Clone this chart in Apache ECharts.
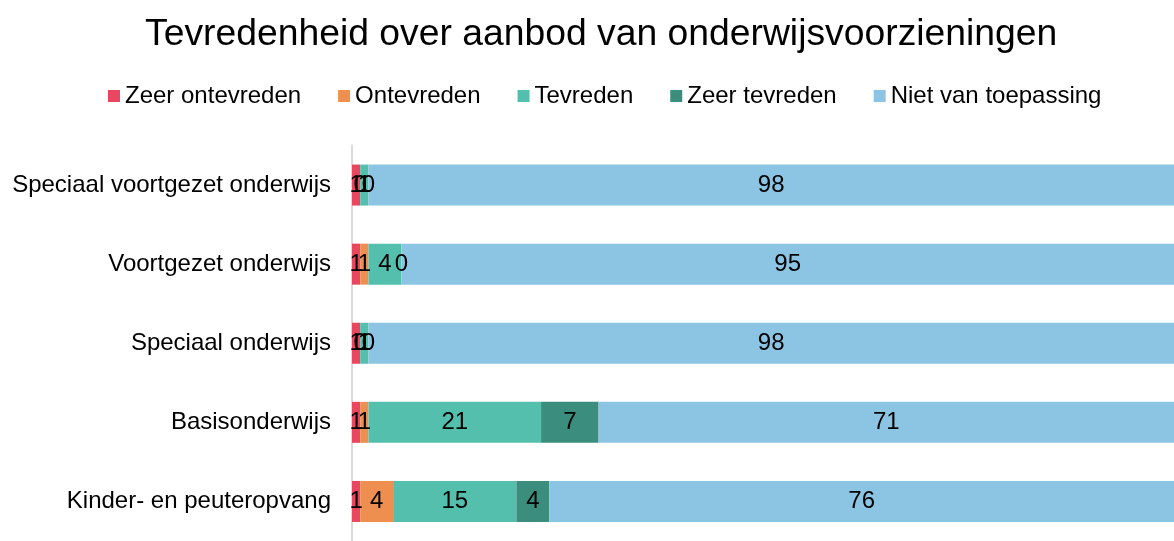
<!DOCTYPE html>
<html>
<head>
<meta charset="utf-8">
<script src="https://cdn.jsdelivr.net/npm/echarts@6/dist/echarts.min.js"></script>
<style>
html,body{margin:0;padding:0;background:#fff;}
#chart{width:1174px;height:541px;}
</style>
</head>
<body>
<div id="chart"></div>
<script>
// Categories listed top to bottom
const categories = ['Speciaal voortgezet onderwijs', 'Voortgezet onderwijs', 'Speciaal onderwijs', 'Basisonderwijs', 'Kinder- en peuteropvang'];
const seriesNames = ['Zeer ontevreden', 'Ontevreden', 'Tevreden', 'Zeer tevreden', 'Niet van toepassing'];
const zeerOntevreden = [1, 1, 1, 1, 1];
const ontevreden = [0, 1, 0, 1, 4];
const tevreden = [1, 4, 1, 21, 15];
const zeerTevreden = [0, 0, 0, 7, 4];
const nietVanToepassing = [98, 95, 98, 71, 76];
const colors = ['#E8475F', '#EE8F4F', '#55BFAD', '#3B8E7E', '#8CC5E3'];

const allData = [zeerOntevreden, ontevreden, tevreden, zeerTevreden, nietVanToepassing];
const FONT = 'Liberation Sans, Arial, sans-serif';

const chart = echarts.init(document.getElementById('chart'));
chart.setOption({
  animation: false,
  color: colors,
  title: {
    text: 'Tevredenheid over aanbod van onderwijsvoorzieningen',
    left: 140,
    top: 11,
    textStyle: { fontFamily: FONT, fontSize: 37.3, fontWeight: 'normal', color: '#000' }
  },
  legend: {
    top: 79,
    left: 103,
    itemWidth: 12,
    itemHeight: 12,
    itemGap: 37,
    icon: 'rect',
    textStyle: { fontFamily: FONT, fontSize: 24, color: '#000' },
    data: seriesNames
  },
  grid: { left: 352, right: -3, top: 145.5, bottom: -9.5, containLabel: false },
  xAxis: { type: 'value', min: 0, max: 100, show: false },
  yAxis: {
    type: 'category',
    inverse: true,
    data: categories,
    axisTick: { show: false },
    axisLine: { show: true, lineStyle: { color: '#d9d9d9', width: 2 } },
    axisLabel: { fontFamily: FONT, fontSize: 24, color: '#000', margin: 21 }
  },
  series: seriesNames.map((name, i) => ({
    name: name,
    type: 'bar',
    stack: 'total',
    barWidth: 41,
    data: allData[i],
    label: {
      show: true,
      position: 'inside',
      fontFamily: FONT,
      fontSize: 24,
      color: '#000',
      formatter: p => String(p.value)
    }
  }))
});
</script>
</body>
</html>
